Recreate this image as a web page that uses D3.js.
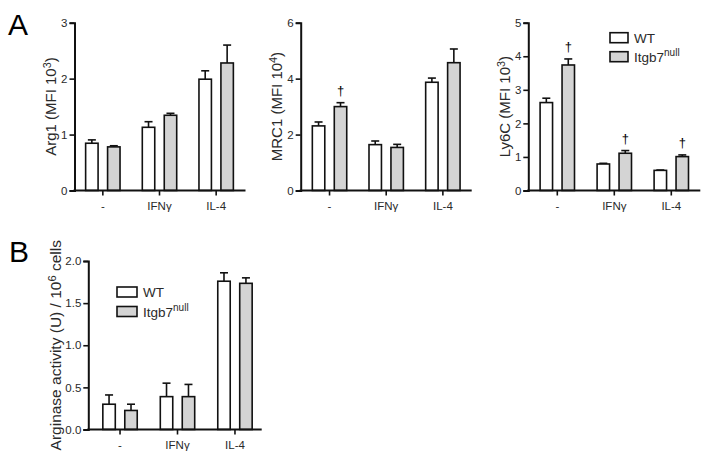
<!DOCTYPE html>
<html>
<head>
<meta charset="utf-8">
<script src="https://cdn.jsdelivr.net/npm/d3@7"></script>
<style>
  body { margin: 0; background: #fff; }
  svg { font-family: "Liberation Sans", Arial, sans-serif; }
</style>
</head>
<body>
<div id="graph"></div>
<script>
// values (mean and error above the mean)
var categories = ['-', 'IFNγ', 'IL-4'];
var groups = ['WT', 'null'];

var arg1WT = [0.845, 1.13, 1.99],   arg1WTErr = [0.06, 0.10, 0.15];
var arg1Null = [0.78, 1.345, 2.28], arg1NullErr = [0.02, 0.035, 0.32];

var mrc1WT = [2.31, 1.64, 3.87],    mrc1WTErr = [0.14, 0.13, 0.15];
var mrc1Null = [3.0, 1.54, 4.57],   mrc1NullErr = [0.14, 0.11, 0.49];
var mrc1Dagger = [true, false, false];

var ly6cWT = [2.62, 0.79, 0.60],    ly6cWTErr = [0.13, 0.02, 0.01];
var ly6cNull = [3.74, 1.11, 1.01],  ly6cNullErr = [0.18, 0.08, 0.05];
var ly6cDagger = [true, true, true];

var argWT = [0.30, 0.39, 1.76],     argWTErr = [0.11, 0.16, 0.10];
var argNull = [0.226, 0.39, 1.735], argNullErr = [0.074, 0.145, 0.065];

var arg1Ticks = [0, 1, 2, 3];
var mrc1Ticks = [0, 2, 4, 6];
var ly6cTicks = [0, 1, 2, 3, 4, 5];
var argTicks = [0, 0.5, 1.0, 1.5, 2.0];

var grey = '#d4d4d4', ink = '#111', textCol = '#2a2a2a';

var svg = d3.select('#graph')
    .append('svg')
        .attr('width', 709)
        .attr('height', 457);

function panel(opt) {
    var g = svg.append('g')
        .attr('transform', 'translate(' + opt.left + ',' + opt.top + ')');

    var y = d3.scaleLinear()
        .domain([0, opt.ticks[opt.ticks.length - 1]])
        .range([opt.height, 0]);

    var x = d3.scaleBand()
        .domain(categories)
        .range([opt.shift, opt.shift + opt.width - 1])
        .paddingInner(0).paddingOuter(0);

    var x1 = d3.scaleBand()
        .domain(groups)
        .range([-18, 18])
        .paddingInner(0.36);

    var rows = [];
    categories.forEach(function(c, i) {
        rows.push({cat: c, grp: 'WT', v: opt.wt[i], e: opt.wtErr[i], dag: false});
        rows.push({cat: c, grp: 'null', v: opt.nul[i], e: opt.nulErr[i], dag: opt.dagger ? opt.dagger[i] : false});
    });

    var bx = function(d) { return x(d.cat) + x.bandwidth() / 2 + x1(d.grp); };

    // error bars (upper only)
    var eb = g.append('g').attr('stroke', ink).attr('stroke-width', 1.6);
    eb.selectAll('line.v')
        .data(rows).enter().append('line')
        .attr('x1', function(d) { return bx(d) + x1.bandwidth() / 2; })
        .attr('x2', function(d) { return bx(d) + x1.bandwidth() / 2; })
        .attr('y1', function(d) { return y(d.v); })
        .attr('y2', function(d) { return y(d.v + d.e); });
    eb.selectAll('line.c')
        .data(rows).enter().append('line')
        .attr('x1', function(d) { return bx(d) + x1.bandwidth() / 2 - 4; })
        .attr('x2', function(d) { return bx(d) + x1.bandwidth() / 2 + 4; })
        .attr('y1', function(d) { return y(d.v + d.e); })
        .attr('y2', function(d) { return y(d.v + d.e); });

    g.selectAll('rect.bar')
        .data(rows).enter().append('rect')
        .attr('x', function(d) { return bx(d) + 0.8; })
        .attr('y', function(d) { return y(d.v); })
        .attr('width', x1.bandwidth() - 1.6)
        .attr('height', function(d) { return opt.height - y(d.v); })
        .attr('fill', function(d) { return d.grp == 'WT' ? '#fff' : grey; })
        .attr('stroke', ink)
        .attr('stroke-width', 1.6);

    g.selectAll('text.dag')
        .data(rows.filter(function(d) { return d.dag; })).enter().append('text')
        .attr('x', function(d) { return bx(d) + x1.bandwidth() / 2; })
        .attr('y', function(d) { return y(d.v + d.e) - 8; })
        .attr('text-anchor', 'middle')
        .attr('font-size', 13)
        .attr('fill', '#000')
        .text('†');

    // y axis
    var ya = g.append('g')
        .call(d3.axisLeft(y).tickValues(opt.ticks).tickSize(5).tickPadding(2)
            .tickFormat(opt.fmt ? d3.format(opt.fmt) : d3.format('d')));
    ya.select('.domain').attr('stroke', ink).attr('stroke-width', 2);
    ya.selectAll('.tick line').attr('stroke', ink).attr('stroke-width', 1.6);
    ya.selectAll('.tick text').attr('font-size', 11.5).attr('fill', textCol)
        .attr('font-family', '"Liberation Sans", Arial, sans-serif');

    // x axis
    var xa = g.append('g')
        .attr('transform', 'translate(0,' + opt.height + ')')
        .call(d3.axisBottom(x).tickSize(5).tickPadding(6));
    xa.select('.domain').remove();
    xa.append('line')
        .attr('x1', -1).attr('x2', opt.width)
        .attr('stroke', ink).attr('stroke-width', 2);
    xa.selectAll('.tick line').attr('stroke', ink).attr('stroke-width', 1.6);
    xa.selectAll('.tick text').attr('font-size', 11.5).attr('fill', textCol)
        .attr('font-family', '"Liberation Sans", Arial, sans-serif');

    // y title
    var t = g.append('text')
        .attr('transform', 'translate(' + opt.titleX + ',' + (opt.height / 2) + ') rotate(-90)')
        .attr('text-anchor', 'middle')
        .attr('dy', '0.35em')
        .attr('font-size', opt.titleSize)
        .attr('fill', textCol);
    t.append('tspan').text(opt.title[0]);
    t.append('tspan').attr('dy', -5).attr('font-size', opt.titleSize * 0.72).text(opt.title[1]);
    t.append('tspan').attr('dy', 5).text(opt.title[2]);

    return g;
}

function legend(px, py, bw, gap) {
    var lg = svg.append('g').attr('transform', 'translate(' + px + ',' + py + ')');
    lg.selectAll('rect')
        .data(groups).enter().append('rect')
        .attr('x', 0)
        .attr('y', function(d, i) { return i * gap; })
        .attr('width', bw).attr('height', 10)
        .attr('fill', function(d) { return d == 'WT' ? '#fff' : grey; })
        .attr('stroke', ink).attr('stroke-width', 1.6);
    lg.append('text').attr('x', bw + 6).attr('y', 10)
        .attr('font-size', 13.5).attr('fill', textCol).text('WT');
    var t = lg.append('text').attr('x', bw + 6).attr('y', gap + 10)
        .attr('font-size', 13.5).attr('fill', textCol);
    t.append('tspan').text('Itgb7');
    t.append('tspan').attr('dy', -6).attr('font-size', 10).text('null');
}

panel({left: 74.5, top: 22.7, width: 171, height: 167.8, shift: 0,
    ticks: arg1Ticks, wt: arg1WT, wtErr: arg1WTErr, nul: arg1Null, nulErr: arg1NullErr,
    title: ['Arg1 (MFI 10', '3', ')'], titleX: -24, titleSize: 15});

panel({left: 300.7, top: 22.7, width: 171, height: 167.8, shift: 0.5,
    ticks: mrc1Ticks, wt: mrc1WT, wtErr: mrc1WTErr, nul: mrc1Null, nulErr: mrc1NullErr,
    dagger: mrc1Dagger,
    title: ['MRC1 (MFI 10', '4', ')'], titleX: -24, titleSize: 15});

panel({left: 528.3, top: 22.7, width: 172, height: 167.8, shift: 0.5,
    ticks: ly6cTicks, wt: ly6cWT, wtErr: ly6cWTErr, nul: ly6cNull, nulErr: ly6cNullErr,
    dagger: ly6cDagger,
    title: ['Ly6C (MFI 10', '3', ')'], titleX: -24, titleSize: 15});

panel({left: 88.3, top: 261, width: 173.4, height: 168.5, shift: 3, fmt: '.1f',
    ticks: argTicks, wt: argWT, wtErr: argWTErr, nul: argNull, nulErr: argNullErr,
    title: ['Arginase activity (U) / 10', '6', ' cells'], titleX: -33, titleSize: 15.5});

legend(610, 32.7, 18, 19);
legend(117, 287, 20, 19.5);

svg.append('text').attr('x', 8).attr('y', 35).attr('font-size', 30).attr('fill', '#000').text('A');
svg.append('text').attr('x', 9).attr('y', 262).attr('font-size', 30).attr('fill', '#000').text('B');
</script>
</body>
</html>
